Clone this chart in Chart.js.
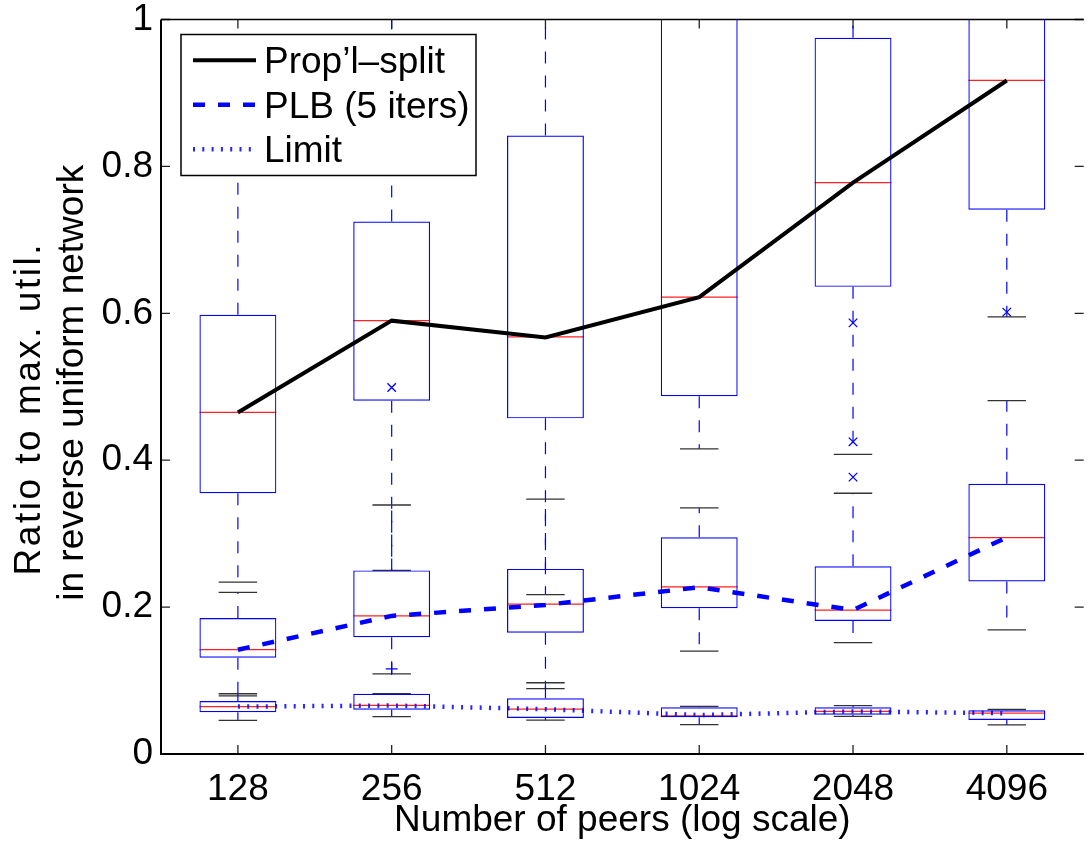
<!DOCTYPE html>
<html><head><meta charset="utf-8">
<script src="https://cdn.jsdelivr.net/npm/chart.js@4.4.0/dist/chart.umd.min.js"></script>
<style>html,body{margin:0;padding:0;background:#fff;} #wrap{width:1091px;height:844px;}</style>
</head><body><div id="wrap"><canvas id="c" width="1091" height="844"></canvas></div>
<script>
// ---- data ----
const peers = ['128', '256', '512', '1024', '2048', '4096'];
const yTicks = [0, 0.2, 0.4, 0.6, 0.8, 1];

// Prop'l-split boxes
const propLow  = [0.234, 0.250, 0.217, 0.4155, 0.408, 0.595];
const propQ1   = [0.355, 0.481, 0.457, 0.487, 0.636, 0.741];
const propMed  = [0.465, 0.590, 0.568, 0.622, 0.778, 0.917];
const propQ3   = [0.598, 0.725, 0.842, 1.05, 0.975, 1.05];
const propHigh = [0.90, 1.10, 1.10, 1.15, 1.10, 1.15];
const propOutX = ['2048'];
const propOutY = [0.377];

// PLB (5 iters) boxes
const plbLow  = [0.079, 0.109, 0.089, 0.140, 0.1517, 0.169];
const plbQ1   = [0.131, 0.159, 0.165, 0.1985, 0.181, 0.235];
const plbMed  = [0.142, 0.188, 0.204, 0.2275, 0.196, 0.2946];
const plbQ3   = [0.185, 0.250, 0.252, 0.295, 0.2557, 0.368];
const plbHigh = [0.220, 0.339, 0.347, 0.335, 0.355, 0.481];
const plbOutX = ['256', '2048', '2048', '4096'];
const plbOutY = [0.499, 0.425, 0.587, 0.6016];

// Limit boxes
const limLow  = [0.0459, 0.0509, 0.046, 0.040, 0.0512, 0.0396];
const limQ1   = [0.0568, 0.0604, 0.049, 0.050, 0.0536, 0.0463];
const limMed  = [0.0645, 0.0663, 0.061, 0.052, 0.058, 0.0556];
const limQ3   = [0.072, 0.082, 0.076, 0.0636, 0.0636, 0.0594];
const limHigh = [0.082, 0.082, 0.097, 0.0649, 0.0658, 0.0606];
const limOutX = ['256'];
const limOutY = [0.116];

// summary lines
const propLine  = [0.465, 0.590, 0.567, 0.622, 0.778, 0.917];
const plbLine   = [0.142, 0.188, 0.203, 0.227, 0.196, 0.295];
const limitLine = [0.0645, 0.066, 0.061, 0.053, 0.058, 0.0555];

const seriesNames = ["Prop\u2019l\u2013split", 'PLB (5 iters)', 'Limit'];
const yTitleLines = ['Ratio to max. util.', 'in reverse uniform network'];
const xTitle = 'Number of peers (log scale)';

// ---- styling ----
const FONT = '"Liberation Sans", Arial, Helvetica, sans-serif';
const BLUE = '#0000ff';
const boxSeries = [
  {low: propLow, q1: propQ1, med: propMed, q3: propQ3, high: propHigh},
  {low: plbLow, q1: plbQ1, med: plbMed, q3: plbQ3, high: plbHigh},
  {low: limLow, q1: limQ1, med: limMed, q3: limQ3, high: limHigh}
];

function boxDataset(s) {
  return {
    type: 'bar', order: 3, grouped: false, clip: 0,
    data: s.q1.map((v, i) => [v, s.q3[i]]),
    backgroundColor: 'rgba(0,0,0,0)', borderColor: BLUE, borderWidth: 1.2,
    borderSkipped: false, categoryPercentage: 1, barPercentage: 0.5
  };
}
function outlierDataset(xs, ys, style, r) {
  return {
    type: 'line', order: 1, showLine: false, clip: false,
    data: xs.map((x, i) => ({x: x, y: ys[i]})),
    pointStyle: style, pointRadius: r, pointBorderColor: BLUE, pointBorderWidth: 1.3,
    pointBackgroundColor: BLUE
  };
}

const lineStyles = [
  {color: '#000000', width: 4, dash: []},
  {color: BLUE, width: 4.5, dash: [12, 13]},
  {color: 'rgba(0,0,255,0.85)', width: 4.5, dash: [2, 7.3]}
];

const axisPlugin = {
  id: 'boxparts',
  beforeDatasetsDraw(chart) {
    const {ctx, chartArea: ca, scales: {x, y}} = chart;
    const unit = x.getPixelForValue(1) - x.getPixelForValue(0);
    const capHalf = unit * 0.125;
    const boxHalf = unit * 0.25;
    ctx.save();
    // inward ticks (under the data)
    ctx.strokeStyle = '#222'; ctx.lineWidth = 1.3; ctx.setLineDash([]);
    yTicks.forEach(v => {
      const py = y.getPixelForValue(v);
      ctx.beginPath();
      ctx.moveTo(ca.left, py); ctx.lineTo(ca.left + 9, py);
      ctx.moveTo(ca.right - 9, py); ctx.lineTo(ca.right, py);
      ctx.stroke();
    });
    peers.forEach((p, i) => {
      const px = x.getPixelForValue(i);
      ctx.beginPath();
      ctx.moveTo(px, ca.bottom); ctx.lineTo(px, ca.bottom - 9);
      ctx.moveTo(px, ca.top); ctx.lineTo(px, ca.top + 9);
      ctx.stroke();
    });
    // axis box
    ctx.strokeStyle = '#000';
    ctx.lineWidth = 2;
    ctx.beginPath();
    ctx.moveTo(ca.left, ca.top); ctx.lineTo(ca.left, ca.bottom); ctx.lineTo(ca.right, ca.bottom);
    ctx.stroke();
    ctx.lineWidth = 1.3;
    ctx.beginPath(); ctx.moveTo(ca.left, ca.top); ctx.lineTo(ca.right, ca.top); ctx.stroke();

    ctx.beginPath(); ctx.rect(ca.left, ca.top, ca.width, ca.height); ctx.clip();
    boxSeries.forEach(s => {
      peers.forEach((p, i) => {
        const cx = x.getPixelForValue(i);
        const pLo = y.getPixelForValue(s.low[i]);
        const pQ1 = y.getPixelForValue(s.q1[i]);
        const pQ3 = y.getPixelForValue(s.q3[i]);
        const pHi = y.getPixelForValue(s.high[i]);
        const pMed = y.getPixelForValue(s.med[i]);
        // whiskers
        ctx.strokeStyle = BLUE; ctx.lineWidth = 1.2; ctx.setLineDash([12, 12]);
        ctx.beginPath(); ctx.moveTo(cx, pQ3); ctx.lineTo(cx, pHi); ctx.stroke();
        ctx.beginPath(); ctx.moveTo(cx, pQ1); ctx.lineTo(cx, pLo); ctx.stroke();
        // caps
        ctx.setLineDash([]); ctx.strokeStyle = '#333'; ctx.lineWidth = 1.3;
        ctx.beginPath();
        ctx.moveTo(cx - capHalf, pLo); ctx.lineTo(cx + capHalf, pLo);
        ctx.moveTo(cx - capHalf, pHi); ctx.lineTo(cx + capHalf, pHi);
        ctx.stroke();
        // median
        ctx.strokeStyle = '#ff2020'; ctx.lineWidth = 1.3;
        ctx.beginPath(); ctx.moveTo(cx - boxHalf, pMed); ctx.lineTo(cx + boxHalf, pMed); ctx.stroke();
      });
    });
    ctx.restore();
  },
  afterDraw(chart) {
    const {ctx, chartArea: ca} = chart;
    // legend
    const L = {x: ca.left + 20, y: ca.top + 15, w: 295, h: 141};
    ctx.save();
    ctx.fillStyle = '#fff';
    ctx.fillRect(L.x, L.y, L.w, L.h);
    ctx.strokeStyle = '#000'; ctx.lineWidth = 1.5; ctx.setLineDash([]);
    ctx.strokeRect(L.x, L.y, L.w, L.h);
    seriesNames.forEach((name, i) => {
      const st = lineStyles[i];
      const ly = L.y + 25.7 + i * 44.5;
      ctx.strokeStyle = st.color; ctx.lineWidth = st.width; ctx.setLineDash(st.dash);
      ctx.lineCap = 'butt';
      ctx.beginPath(); ctx.moveTo(L.x + 12, ly); ctx.lineTo(L.x + 75, ly); ctx.stroke();
      ctx.setLineDash([]);
      ctx.fillStyle = '#000';
      ctx.font = '37px ' + FONT;
      ctx.textBaseline = 'alphabetic'; ctx.textAlign = 'left';
      ctx.fillText(name, L.x + 83, ly + 13);
    });
    ctx.restore();

    // y-axis title (two rotated lines)
    const midY = (ca.top + ca.bottom) / 2;
    ctx.save();
    ctx.fillStyle = '#000';
    ctx.font = '37px ' + FONT;
    ctx.textAlign = 'center'; ctx.textBaseline = 'alphabetic';
    ctx.save();
    ctx.translate(40, midY + 22);
    ctx.rotate(-Math.PI / 2);
    if ('letterSpacing' in ctx) ctx.letterSpacing = '2.5px';
    ctx.fillText(yTitleLines[0], 0, 0);
    ctx.restore();
    ctx.save();
    ctx.translate(83.3, midY - 4);
    ctx.rotate(-Math.PI / 2);
    ctx.fillText(yTitleLines[1], 0, 0);
    ctx.restore();
    ctx.restore();
  }
};

const datasets = [
  {type: 'line', order: 0, label: seriesNames[0], data: propLine, borderColor: lineStyles[0].color,
   borderWidth: lineStyles[0].width, borderDash: lineStyles[0].dash, pointRadius: 0, tension: 0, fill: false},
  {type: 'line', order: 0, label: seriesNames[1], data: plbLine, borderColor: lineStyles[1].color,
   borderWidth: lineStyles[1].width, borderDash: lineStyles[1].dash, pointRadius: 0, tension: 0, fill: false},
  {type: 'line', order: 0, label: seriesNames[2], data: limitLine, borderColor: lineStyles[2].color,
   borderWidth: lineStyles[2].width, borderDash: lineStyles[2].dash, pointRadius: 0, tension: 0, fill: false},
  outlierDataset(propOutX, propOutY, 'crossRot', 6),
  outlierDataset(plbOutX, plbOutY, 'crossRot', 6),
  outlierDataset(limOutX, limOutY, 'cross', 6),
  boxDataset(boxSeries[0]),
  boxDataset(boxSeries[1]),
  boxDataset(boxSeries[2])
];

new Chart(document.getElementById('c'), {
  data: {labels: peers, datasets: datasets},
  options: {
    responsive: false, maintainAspectRatio: false, devicePixelRatio: 1,
    animation: false, events: [],
    layout: {padding: {top: 19.5, right: 0, bottom: 0, left: 0}},
    plugins: {legend: {display: false}, tooltip: {enabled: false}},
    scales: {
      x: {
        type: 'category', offset: true,
        grid: {display: false, drawTicks: false}, border: {display: false},
        ticks: {font: {family: FONT, size: 37, lineHeight: 1}, color: '#000', padding: 17,
                maxRotation: 0, autoSkip: false},
        title: {display: true, text: xTitle, color: '#000',
                font: {family: FONT, size: 37, lineHeight: 1}, padding: {top: 0, bottom: 5}},
        afterFit(s) { s.height = 90; }
      },
      y: {
        type: 'linear', min: 0, max: 1,
        grid: {display: false, drawTicks: false}, border: {display: false},
        afterBuildTicks(s) { s.ticks = yTicks.map(v => ({value: v})); },
        ticks: {font: {family: FONT, size: 37, lineHeight: 0.5}, color: '#000', padding: 8,
                callback: v => String(v)},
        title: {display: false},
        afterFit(s) { s.width = 161; }
      }
    }
  },
  plugins: [axisPlugin]
});
</script></body></html>
